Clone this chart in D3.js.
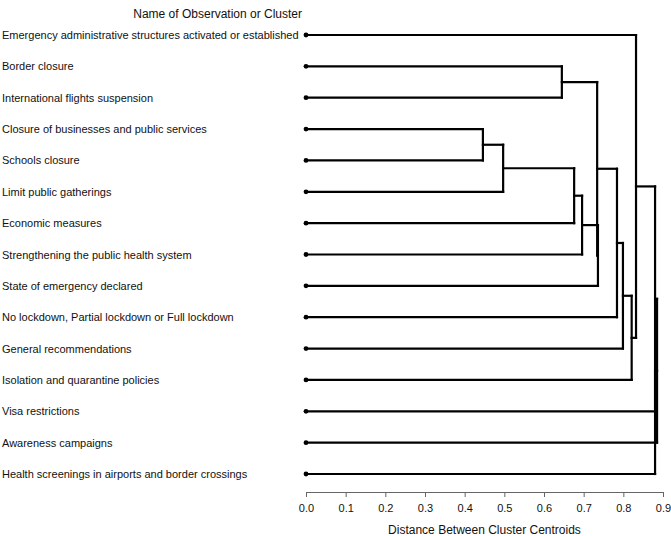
<!DOCTYPE html>
<html><head><meta charset="utf-8">
<script src="https://cdn.jsdelivr.net/npm/d3@7"></script>
<style>
html,body{margin:0;padding:0;background:#fff;}
text{font-family:"Liberation Sans",Arial,sans-serif;}
</style></head>
<body>
<svg id="chart" width="671" height="536"></svg>
<script>
// Leaves (display order, top to bottom)
const labels = [
  "Emergency administrative structures activated or established",
  "Border closure",
  "International flights suspension",
  "Closure of businesses and public services",
  "Schools closure",
  "Limit public gatherings",
  "Economic measures",
  "Strengthening the public health system",
  "State of emergency declared",
  "No lockdown, Partial lockdown or Full lockdown",
  "General recommendations",
  "Isolation and quarantine policies",
  "Visa restrictions",
  "Awareness campaigns",
  "Health screenings in airports and border crossings"
];
// Merges: [child A, child B, distance]; children are leaf indices (0-14)
// or earlier clusters (15 + merge index)
const merges = [
  [3, 4, 0.446],   // 15
  [15, 5, 0.497],  // 16
  [1, 2, 0.645],   // 17
  [16, 6, 0.676],  // 18
  [18, 7, 0.696],  // 19
  [19, 8, 0.736],  // 20
  [17, 20, 0.734], // 21
  [21, 9, 0.784],  // 22
  [22, 10, 0.799], // 23
  [23, 11, 0.821], // 24
  [0, 24, 0.832],  // 25
  [25, 12, 0.880], // 26
  [26, 13, 0.885], // 27
  [27, 14, 0.880]  // 28
];
const tickValues = [0.0,0.1,0.2,0.3,0.4,0.5,0.6,0.7,0.8,0.9];
const xTitle = "Distance Between Cluster Centroids";
const yTitle = "Name of Observation or Cluster";

const svg = d3.select("#chart");
const x = d3.scaleLinear().domain([0, 0.9]).range([306, 663]);
const y = d3.scalePoint().domain(d3.range(labels.length)).range([35, 474]);

const nodeY = labels.map((d,i)=>y(i));
const nodeD = labels.map(()=>0);
merges.forEach(m=>{
  nodeY.push((nodeY[m[0]]+nodeY[m[1]])/2);
  nodeD.push(m[2]);
});

const g = svg.append("g");
const lineStyle = s => s.attr("stroke","#000").attr("stroke-width",2.2).attr("fill","none").attr("stroke-linecap","square");

merges.forEach(m=>{
  const [a,b,d] = m;
  [a,b].forEach(c=>{
    g.append("line").attr("x1",x(nodeD[c])).attr("x2",x(d))
      .attr("y1",nodeY[c]).attr("y2",nodeY[c]).call(lineStyle);
  });
  g.append("line").attr("x1",x(d)).attr("x2",x(d))
    .attr("y1",nodeY[a]).attr("y2",nodeY[b]).call(lineStyle);
});

g.selectAll("circle.leaf").data(labels).enter().append("circle")
  .attr("cx",x(0)).attr("cy",(d,i)=>y(i)).attr("r",2.4).attr("fill","#000");

svg.selectAll("text.lab").data(labels).enter().append("text")
  .attr("x",2).attr("y",(d,i)=>y(i)+4).attr("font-size",11).attr("fill","#111").text(d=>d);

svg.append("text").attr("x",302).attr("y",18).attr("text-anchor","end")
  .attr("font-size",12).attr("fill","#111").text(yTitle);

const axis = d3.axisBottom(x).tickValues(tickValues).tickFormat(d3.format(".1f")).tickSize(5).tickSizeOuter(0);
const ag = svg.append("g").attr("transform","translate(0,492)").call(axis);
ag.select(".domain").attr("stroke","#666");
ag.selectAll(".tick line").attr("stroke","#666");
ag.selectAll(".tick text").attr("font-size",11).attr("fill","#111").attr("dy","1.1em")
  .style("font-family","'Liberation Sans',Arial,sans-serif");

svg.append("text").attr("x",(x(0)+x(0.9))/2).attr("y",534).attr("text-anchor","middle")
  .attr("font-size",12).attr("fill","#111").text(xTitle);
</script>
</body></html>
